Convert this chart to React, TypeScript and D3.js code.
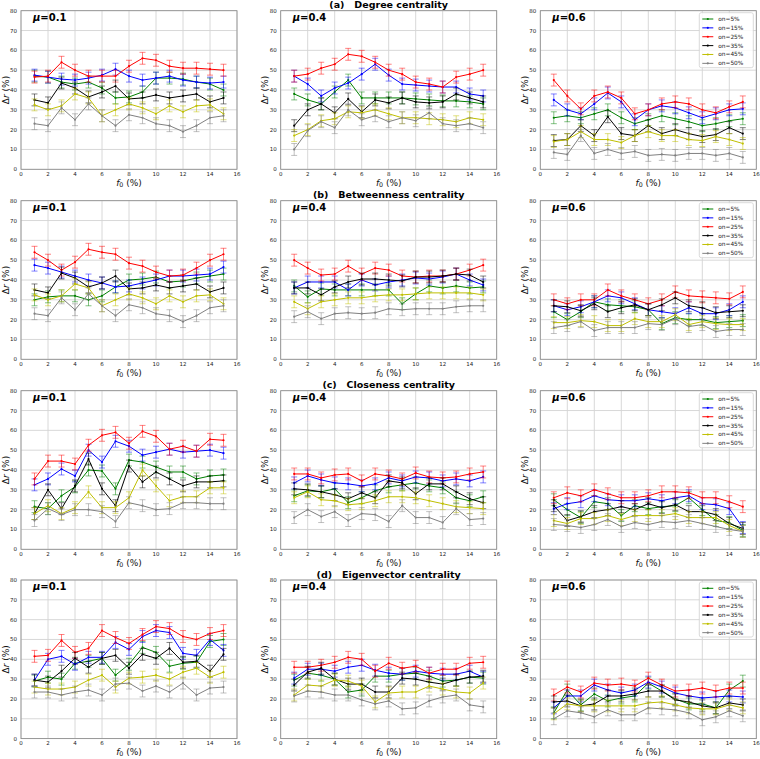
import React from 'react';
import * as d3 from 'd3';

const F0 = [1, 2, 3, 4, 5, 6, 7, 8, 9, 10, 11, 12, 13, 14, 15];
const SERIES_LABELS = ['on=5%', 'on=15%', 'on=25%', 'on=35%', 'on=45%', 'on=50%'];
const SERIES_COLORS = ['#008000', '#0000ff', '#ff0000', '#000000', '#bfbf00', '#808080'];
const ERR_HALF = [3, 3, 3, 3, 3, 3];
const MU_LABELS = ['0.1', '0.4', '0.6'];
const ROW_TITLES = ['(a)   Degree centrality', '(b)   Betweenness centrality', '(c)   Closeness centrality', '(d)   Eigenvector centrality'];
const X_TICKS = [0, 2, 4, 6, 8, 10, 12, 14, 16];
const Y_TICKS = [0, 10, 20, 30, 40, 50, 60, 70, 80];

// series order: on=5%, 15%, 25%, 35%, 45%, 50%
const degreeMu01 = [
  [47, 46.5, 44, 43, 44, 41, 36, 36.5, 39, 46, 46, 45.5, 44, 43, 40],
  [47.5, 46.5, 45.5, 45, 46, 47.5, 50.5, 47, 45, 46, 47, 45, 44, 43.5, 44],
  [46.5, 47, 54, 50, 47, 47, 47, 52, 56, 55, 52, 51, 51, 50.5, 50],
  [35, 33.5, 43.5, 41, 36.5, 39, 42, 35.5, 36, 37.5, 36, 37, 38, 34, 36],
  [32.5, 30, 32, 38, 36, 27, 30, 33, 31, 28, 32, 29, 32, 32.5, 28],
  [23, 22, 31, 25, 33, 27, 22, 27.5, 26, 23, 22, 19, 22, 26, 27],
];
const degreeMu04 = [
  [38, 35, 33, 39, 45, 36, 36, 36, 36, 35.5, 35, 34.5, 34.5, 34, 33],
  [47, 43, 37, 41, 43.5, 48, 53, 47.5, 43, 42.5, 42, 41.5, 41.5, 38, 37],
  [47, 48, 51, 53, 58, 57, 54, 50, 48, 44, 43, 41.5, 46.5, 48, 50],
  [22, 30, 33, 28.5, 35.5, 29, 35, 33.5, 36, 34, 33.5, 34, 38, 36, 34],
  [17, 20, 24.5, 25.5, 29, 28.5, 30, 28, 26, 26, 25.5, 25, 24, 26, 25],
  [10, 19.5, 24, 21, 30, 25, 27, 24, 26, 24.5, 28.5, 23, 22, 23, 21],
];
const degreeMu06 = [
  [26, 27, 26, 28, 30, 26, 23, 25, 27, 25.5, 24, 22, 23, 24.5, 25.5],
  [35, 30, 28, 33, 38.5, 34, 25, 30, 32, 31, 28.5, 26, 28, 30, 30.5],
  [45, 37, 30.5, 37, 39, 36, 28, 30, 33, 34, 33, 30, 28.5, 31.5, 34],
  [14.5, 15, 22, 17, 26.5, 18, 17, 22, 18, 20, 18, 16.5, 17.5, 21, 18],
  [14, 15, 19, 15, 15, 13.5, 17, 19, 17, 17, 15, 14.5, 16.5, 15, 13],
  [8.5, 7.5, 17, 8, 10, 8, 9, 7, 7.5, 7, 8, 8, 7, 8, 6],
];
const betweenMu01 = [
  [30, 31.5, 32, 32, 30, 32, 36.5, 40, 40.5, 41.5, 39, 39.5, 41, 42, 43],
  [47.5, 46, 44, 42, 40, 38.5, 36.5, 37, 38.5, 40, 42, 42, 42.5, 43, 46.5],
  [54, 50, 45, 49, 55.5, 54, 53, 48.5, 47, 44, 42, 42.5, 46, 50, 53],
  [35, 33.5, 43.5, 41, 36.5, 38.5, 42, 35.5, 36, 37.5, 36, 37, 38, 34, 36],
  [32.5, 30, 32, 38, 36, 27, 30, 33, 31, 28, 32, 29, 32, 32.5, 28],
  [23, 22, 31, 25, 33, 27, 22, 27.5, 26, 23, 22, 19, 22, 26, 27],
];
const betweenMu04 = [
  [37, 31.5, 35.5, 35, 35, 35, 35, 35, 28, 33, 37, 36, 37, 36, 36.5],
  [36, 39, 39, 39, 35, 40, 37.5, 39, 40, 41, 40.5, 41.5, 43, 40, 37.5],
  [50, 46, 42.5, 43, 47, 43, 46, 45, 42, 41.5, 42, 42, 43, 45, 47.5],
  [36, 36, 32.5, 36.5, 39, 40.5, 40.5, 40, 39.5, 41.5, 41.5, 42, 43, 42.5, 39],
  [29, 25.5, 29, 30, 31, 31, 32, 32.5, 32.5, 33, 33.5, 33.5, 33.5, 33.5, 32.5],
  [21.5, 24, 20.5, 23, 23.5, 23, 23.5, 25.5, 25, 25.5, 25.5, 25.5, 26.5, 27, 27],
];
const betweenMu06 = [
  [24, 20, 24, 29, 27.5, 27, 26.5, 25, 18, 21, 20, 20, 18.5, 19, 19.5],
  [27, 25, 26.5, 29, 32, 31, 28, 25, 24, 23, 26, 23, 23, 25, 29],
  [30, 28, 30, 30, 35, 32, 30, 28, 30, 34, 32, 31.5, 31, 30.5, 34],
  [27, 26.5, 24.5, 28, 24, 26, 27.5, 25, 27.5, 31, 27, 26, 23.5, 24, 24.5],
  [18.5, 18.5, 19.5, 19, 17, 17, 20.5, 19, 19, 22.5, 17.5, 19, 18, 17.5, 17.5],
  [16, 17, 19, 14.5, 16, 16, 16, 18, 17.5, 20.5, 16.5, 17.5, 14, 15, 15],
];
const closeMu01 = [
  [21.5, 20.5, 27, 31.5, 40, 39.5, 30.5, 45, 44, 41.5, 39, 39, 35.5, 37, 37.5],
  [32.5, 35.5, 40.5, 37, 50, 44, 54.5, 52, 47.5, 49, 50.5, 49, 49.5, 50, 48.5],
  [35.5, 44.5, 44.5, 43, 52.5, 57.5, 59, 53.5, 59.5, 57, 50.5, 52, 49.5, 55.5, 55],
  [18, 30, 20.5, 32, 45.5, 30.5, 22, 42, 34, 39, 35.5, 32, 34, 34, 34.5],
  [18, 22, 18, 21, 29, 21, 21, 26, 40, 32, 24.5, 26.5, 26.5, 31, 31],
  [14.5, 20.5, 17.5, 20, 20, 19, 14, 23.5, 22, 20, 20.5, 23.5, 23.5, 23, 23],
];
const closeMu04 = [
  [27, 29.5, 29, 30.5, 23.5, 26, 29.5, 31.5, 32.5, 33.5, 32, 31, 26, 24.5, 26.5],
  [33.5, 37, 35, 33.5, 33, 32, 33, 36, 34.5, 36.5, 36, 34.5, 35.5, 34.5, 36.5],
  [38, 38, 36, 37.5, 38, 34.5, 38, 37, 35.5, 38.5, 36.5, 36, 36.5, 38, 39],
  [30.5, 30, 29, 27.5, 25.5, 28.5, 26, 34.5, 33.5, 28, 33, 33, 29, 25.5, 23.5],
  [26, 29, 25, 24.5, 22.5, 23, 24.5, 26.5, 26.5, 26, 24.5, 23, 21.5, 21, 20.5],
  [16, 20, 16.5, 19, 14.5, 18, 17.5, 14, 22, 16, 16, 13.5, 20.5, 15, 15.5],
];
const closeMu06 = [
  [25, 20, 16, 24, 23, 17, 22, 20.5, 21.5, 22, 26, 20, 14.5, 13.5, 9.5],
  [20.5, 23, 24, 27, 25, 24.5, 24.5, 25.5, 24.5, 26, 27, 23, 22.5, 20.5, 11],
  [26, 28.5, 27, 30, 28, 26, 26, 27, 29, 29, 28.5, 26, 26, 24, 21.5],
  [22, 14.5, 16.5, 19, 20, 21.5, 20, 23, 21, 22.5, 19, 19, 17.5, 13, 10.5],
  [14.5, 13, 15.5, 15.5, 17, 15, 17, 17, 17, 18, 16, 16, 16, 12, 9],
  [12.5, 12, 11, 12.5, 15, 11.5, 13.5, 12.5, 14, 13.5, 14.5, 13, 11.5, 10, 9],
];
const eigenMu01 = [
  [29, 31, 30, 38, 39, 40.5, 32, 37.5, 46, 43.5, 36.5, 38, 38.5, 49, 50],
  [29.5, 40, 41.5, 37.5, 41, 41, 48.5, 45, 51.5, 54.5, 53.5, 43, 42, 50, 44.5],
  [41.5, 42, 49.5, 43.5, 45.5, 54.5, 51, 48, 52.5, 56.5, 55.5, 51.5, 50, 53, 54.5],
  [29.5, 28.5, 34, 40.5, 36, 40.5, 42, 35.5, 42.5, 40.5, 45.5, 38.5, 39, 34, 42.5],
  [26, 25, 25, 26, 29.5, 32, 26, 30.5, 31, 32, 30, 33.5, 35.5, 31, 33.5],
  [23.5, 23.5, 22, 23.5, 24.5, 22, 27.5, 28, 24, 26.5, 23.5, 28, 22, 25.5, 26],
];
const eigenMu04 = [
  [29.5, 33, 32, 30, 23.5, 24.5, 31.5, 31.5, 32.5, 33, 31.5, 29, 29.5, 31, 30.5],
  [30.5, 35, 35, 34, 36, 37, 34.5, 33, 32.5, 34, 33, 32.5, 32.5, 34, 31],
  [36, 36, 37, 38.5, 41, 40, 34, 38, 35.5, 36.5, 33, 35, 35, 38, 38.5],
  [27, 33.5, 35.5, 30, 27.5, 27.5, 23.5, 23.5, 30.5, 30, 28.5, 27.5, 29.5, 31, 31.5],
  [22, 27, 26.5, 29.5, 29, 26.5, 18.5, 23, 23.5, 23.5, 26.5, 25, 23.5, 23, 28],
  [21.5, 24, 23.5, 22, 22, 19.5, 17.5, 19, 15, 15.5, 19, 21, 22, 17, 16],
];
const eigenMu06 = [
  [13, 24.5, 17, 22.5, 19, 20.5, 21.5, 28, 24, 20, 17.5, 17.5, 15.5, 24.5, 29],
  [15.5, 21.5, 21.5, 27, 24.5, 23, 24.5, 28.5, 26, 23, 21.5, 20.5, 21, 21.5, 21],
  [22, 26, 23.5, 28, 27, 27.5, 26.5, 30.5, 27, 24, 24.5, 25.5, 24, 25.5, 25.5],
  [18.5, 19, 16.5, 17.5, 21.5, 21.5, 22.5, 24, 24, 19.5, 18.5, 16.5, 15.5, 18, 17],
  [12.5, 17.5, 16.5, 16.5, 16.5, 16.5, 16.5, 18, 18.5, 17, 15.5, 15, 15, 17, 15.5],
  [10, 14, 13, 11, 14.5, 12, 12, 15.5, 15, 14.5, 13, 9.5, 11, 14, 11.5],
];

const PANEL_DATA = [
  [degreeMu01, degreeMu04, degreeMu06],
  [betweenMu01, betweenMu04, betweenMu06],
  [closeMu01, closeMu04, closeMu06],
  [eigenMu01, eigenMu04, eigenMu06],
];

const FONT = '"DejaVu Sans", sans-serif';
const COL_X = [21, 280.7, 540.3];
const ROW_Y = [10.7, 200.7, 390.7, 580];
const PW = 216;
const PH = 158.6;

function Panel({ x0, y0, data, mu, legend }: { x0: number; y0: number; data: number[][]; mu: string; legend: boolean }) {
  const xs = d3.scaleLinear().domain([0, 16]).range([0, PW]);
  const ys = d3.scaleLinear().domain([0, 80]).range([PH, 0]);
  const line = d3.line<number>().x((_, i) => xs(F0[i])).y((d) => ys(d));
  return (
    <g transform={`translate(${x0},${y0})`}>
      <rect x={0} y={0} width={PW} height={PH} fill="#fff" />
      {X_TICKS.map((t) => (
        <line key={'gx' + t} x1={xs(t)} x2={xs(t)} y1={0} y2={PH} stroke="#d4d4d4" strokeWidth={0.9} />
      ))}
      {Y_TICKS.map((t) => (
        <line key={'gy' + t} x1={0} x2={PW} y1={ys(t)} y2={ys(t)} stroke="#d4d4d4" strokeWidth={0.9} />
      ))}
      {data.map((s, si) => (
        <g key={si}>
          <g stroke={SERIES_COLORS[si]} strokeOpacity={0.55} strokeWidth={0.9}>
            {s.map((v, i) => {
              const cx = xs(F0[i]);
              const e = ERR_HALF[si];
              return (
                <g key={i}>
                  <line x1={cx} x2={cx} y1={ys(v - e)} y2={ys(v + e)} />
                  <line x1={cx - 3} x2={cx + 3} y1={ys(v - e)} y2={ys(v - e)} />
                  <line x1={cx - 3} x2={cx + 3} y1={ys(v + e)} y2={ys(v + e)} />
                </g>
              );
            })}
          </g>
          <path d={line(s) || ''} fill="none" stroke={SERIES_COLORS[si]} strokeWidth={1} />
          {s.map((v, i) => (
            <circle key={i} cx={xs(F0[i])} cy={ys(v)} r={1.1} fill={SERIES_COLORS[si]} />
          ))}
        </g>
      ))}
      <rect x={0} y={0} width={PW} height={PH} fill="none" stroke="#8a8a8a" strokeWidth={0.8} />
      {X_TICKS.map((t) => (
        <text key={'tx' + t} x={xs(t)} y={PH + 6.5} fontSize={5.5} textAnchor="middle" fontFamily={FONT} fill="#222">
          {t}
        </text>
      ))}
      {Y_TICKS.map((t) => (
        <text key={'ty' + t} x={-4} y={ys(t) + 2} fontSize={5.5} textAnchor="end" fontFamily={FONT} fill="#222">
          {t}
        </text>
      ))}
      <text x={PW / 2} y={PH + 16.3} fontSize={9} textAnchor="middle" fontFamily={FONT} fill="#111">
        <tspan fontStyle="italic">f</tspan>
        <tspan fontSize={6.3} dy={1.2}>0</tspan>
        <tspan dy={-1.2}> (%)</tspan>
      </text>
      <text transform={`translate(${-12.5},${PH / 2}) rotate(-90)`} fontSize={9} textAnchor="middle" fontFamily={FONT} fill="#111">
        Δ<tspan fontStyle="italic">r</tspan> (%)
      </text>
      <text x={12} y={10} fontSize={10} fontWeight="bold" fontFamily={FONT} fill="#000">
        <tspan fontStyle="italic">μ</tspan>=
        {mu}
      </text>
      {legend && (
        <g transform={`translate(${PW - 57},2)`}>
          <rect x={0} y={0} width={54} height={55} rx={2} fill="#fff" fillOpacity={0.85} stroke="#d0d0d0" strokeWidth={0.8} />
          {SERIES_LABELS.map((lab, i) => {
            const yy = 6.3 + i * 8.87;
            return (
              <g key={lab}>
                <line x1={3} x2={14} y1={yy} y2={yy} stroke={SERIES_COLORS[i]} strokeWidth={1} />
                <circle cx={8.5} cy={yy} r={1.1} fill={SERIES_COLORS[i]} />
                <text x={19} y={yy + 2} fontSize={5.8} fontFamily={FONT} fill="#222">
                  {lab}
                </text>
              </g>
            );
          })}
        </g>
      )}
    </g>
  );
}

export default function App() {
  return (
    <svg width={760} height={759} style={{ position: 'absolute', left: 0, top: 0, background: '#fff' }}>
      <rect width={760} height={759} fill="#fff" />
      {PANEL_DATA.map((row, r) => (
        <g key={r}>
          {row.map((data, c) => (
            <Panel key={c} x0={COL_X[c]} y0={ROW_Y[r]} data={data} mu={MU_LABELS[c]} legend={c === 2} />
          ))}
          <text x={COL_X[1] + PW / 2} y={ROW_Y[r] - 2.5} fontSize={9.5} fontWeight="bold" textAnchor="middle" fontFamily={FONT} fill="#000" style={{ whiteSpace: 'pre' }}>
            {ROW_TITLES[r]}
          </text>
        </g>
      ))}
    </svg>
  );
}
